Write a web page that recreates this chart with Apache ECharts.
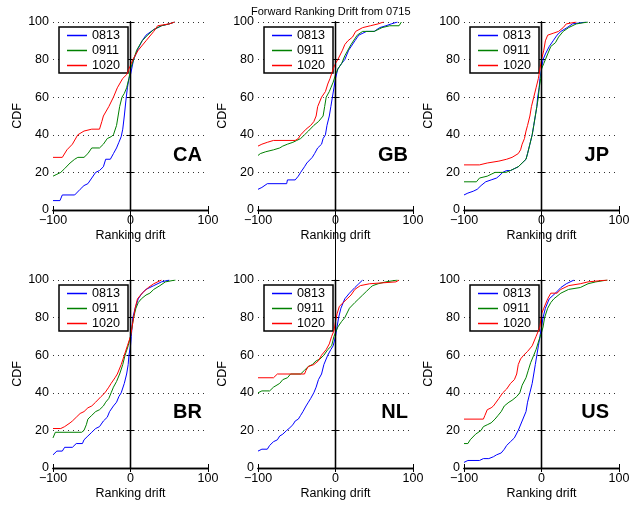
<!DOCTYPE html>
<html>
<head>
<meta charset="utf-8">
<script src="https://cdn.jsdelivr.net/npm/echarts@6/dist/echarts.min.js"></script>
<style>
  html, body { margin: 0; padding: 0; background: #fff; }
  #chart { width: 637px; height: 505px; }
</style>
</head>
<body>
<div id="chart"></div>
<script>
// Series names and country panels
const seriesNames = ['0813', '0911', '1020'];
const seriesColors = ['#0000ff', '#008000', '#ff0000'];
const countries = ['CA', 'GB', 'JP', 'BR', 'NL', 'US'];
const xTicks = [-100, 0, 100];
const yTicks = [0, 20, 40, 60, 80, 100];

// CDF points [drift, cdf]
const caBlue = [[-100,5],[-91,5],[-88,8],[-72,8],[-65,11],[-60,13],[-55,14],[-50,17],[-45,20],[-40,21],[-35,23],[-32,27],[-26,27],[-22,30],[-18,33],[-15,36],[-12,39],[-10,43],[-8,50],[-6,58],[-4,65],[-2,70],[0,72],[4,80],[10,86],[15,90],[20,93],[30,96],[40,98],[50,99],[57,100]];
const caGreen = [[-100,18],[-95,19],[-90,20],[-85,22],[-78,25],[-72,27],[-68,28],[-60,28],[-55,30],[-50,33],[-40,33],[-35,35],[-30,38],[-25,39],[-22,40],[-18,45],[-16,50],[-14,55],[-11,60],[-8,62],[-5,65],[-2,70],[0,75],[4,80],[8,85],[15,90],[22,93],[30,96],[40,98],[50,99],[57,100]];
const caRed = [[-100,28],[-88,28],[-82,32],[-75,35],[-68,40],[-60,42],[-50,43],[-40,43],[-37,47],[-35,50],[-28,55],[-22,60],[-17,65],[-10,70],[-5,72],[3,80],[10,85],[20,90],[30,95],[35,98],[50,99],[57,100]];

const gbBlue = [[-100,11],[-95,12],[-88,14],[-63,14],[-62,16],[-52,16],[-48,18],[-45,20],[-40,23],[-37,25],[-30,28],[-27,30],[-23,33],[-18,35],[-16,38],[-13,40],[-11,45],[-8,50],[-6,55],[-4,60],[-2,65],[0,70],[3,75],[8,78],[12,80],[17,85],[25,90],[30,93],[40,95],[50,95],[57,97],[65,98],[72,99],[80,100]];
const gbGreen = [[-100,29],[-97,30],[-90,31],[-80,32],[-72,33],[-68,34],[-62,35],[-55,36],[-50,37],[-45,38],[-40,40],[-35,42],[-28,45],[-22,47],[-20,48],[-16,50],[-14,55],[-12,60],[-8,63],[-6,65],[-3,68],[0,72],[3,75],[8,78],[12,82],[20,88],[28,93],[35,95],[50,95],[60,97],[70,98],[82,98],[85,100]];
const gbRed = [[-100,34],[-95,35],[-88,36],[-80,37],[-52,37],[-48,38],[-45,40],[-38,43],[-32,45],[-28,47],[-25,50],[-23,55],[-18,60],[-13,63],[-10,67],[-7,70],[-3,75],[0,78],[3,80],[9,85],[12,88],[16,90],[22,92],[26,95],[35,97],[45,98],[55,99],[62,100]];

const jpBlue = [[-100,8],[-95,9],[-88,10],[-83,11],[-78,13],[-72,15],[-65,16],[-58,17],[-55,18],[-50,20],[-45,21],[-40,21],[-35,22],[-30,23],[-25,25],[-20,27],[-18,30],[-15,35],[-12,40],[-10,45],[-8,50],[-6,55],[-5,60],[-3,65],[-2,70],[0,75],[2,80],[5,83],[10,87],[15,90],[20,93],[25,95],[33,97],[40,99],[58,100]];
const jpGreen = [[-100,15],[-84,15],[-80,17],[-70,18],[-65,19],[-60,20],[-46,20],[-40,21],[-35,22],[-30,23],[-25,25],[-20,27],[-18,30],[-15,35],[-12,40],[-10,45],[-8,50],[-6,55],[-4,60],[-3,65],[-1,70],[0,75],[3,78],[5,80],[8,83],[12,87],[18,89],[22,92],[28,95],[35,97],[45,99],[60,100]];
const jpRed = [[-100,24],[-80,24],[-70,25],[-55,26],[-45,27],[-38,28],[-30,30],[-27,32],[-25,35],[-22,38],[-20,42],[-18,45],[-15,50],[-13,55],[-10,60],[-7,65],[-4,70],[-2,75],[0,80],[3,85],[5,90],[8,93],[15,94],[22,95],[28,97],[32,99],[45,100]];

const brBlue = [[-100,7],[-95,9],[-88,9],[-85,11],[-75,11],[-70,13],[-62,13],[-60,15],[-55,17],[-50,19],[-45,21],[-40,22],[-35,25],[-30,27],[-27,30],[-22,33],[-18,35],[-15,38],[-12,40],[-8,45],[-5,50],[-3,55],[-2,60],[0,65],[1,70],[2,75],[3,80],[6,85],[10,90],[15,93],[20,95],[30,97],[40,99],[50,100]];
const brGreen = [[-100,16],[-97,19],[-63,19],[-60,20],[-57,23],[-55,26],[-50,28],[-45,30],[-40,31],[-35,33],[-32,35],[-28,37],[-25,40],[-22,43],[-18,46],[-14,50],[-10,55],[-7,60],[-3,65],[0,70],[2,75],[4,80],[7,85],[10,88],[14,90],[20,92],[25,93],[30,95],[38,97],[45,99],[58,100]];
const brRed = [[-100,21],[-90,21],[-85,22],[-78,24],[-75,25],[-70,27],[-65,29],[-60,30],[-55,32],[-50,33],[-45,35],[-38,38],[-33,40],[-28,43],[-25,45],[-20,48],[-17,50],[-12,55],[-8,60],[-4,65],[0,70],[2,75],[4,80],[6,85],[9,90],[15,93],[23,96],[30,98],[40,100]];

const nlBlue = [[-100,9],[-95,10],[-88,10],[-85,12],[-80,14],[-75,15],[-72,17],[-68,18],[-63,20],[-60,21],[-55,23],[-52,25],[-48,26],[-45,28],[-42,30],[-38,33],[-35,35],[-32,37],[-28,40],[-25,43],[-22,47],[-18,50],[-15,55],[-10,60],[-6,63],[-3,65],[0,70],[2,75],[4,80],[7,85],[12,90],[18,93],[25,96],[30,98],[35,100]];
const nlGreen = [[-100,40],[-95,41],[-85,41],[-80,43],[-72,45],[-68,47],[-62,48],[-58,50],[-45,50],[-40,52],[-35,54],[-30,55],[-25,57],[-20,58],[-15,60],[-10,63],[-5,65],[-2,70],[0,72],[3,75],[8,78],[12,80],[18,85],[25,88],[30,90],[35,92],[40,94],[45,96],[48,97],[55,98],[65,99],[80,100]];
const nlRed = [[-100,48],[-80,48],[-75,50],[-40,50],[-38,52],[-35,54],[-28,55],[-22,57],[-18,60],[-12,63],[-8,66],[-5,70],[-2,73],[0,78],[2,82],[5,86],[10,88],[15,90],[20,92],[25,95],[32,97],[44,98],[46,99],[78,99],[82,100]];

const usBlue = [[-100,3],[-95,4],[-80,4],[-75,5],[-68,5],[-62,6],[-58,7],[-52,8],[-48,10],[-45,12],[-40,14],[-35,16],[-30,20],[-25,25],[-20,30],[-18,35],[-15,40],[-12,45],[-10,50],[-8,55],[-6,60],[-4,65],[-2,70],[0,75],[2,80],[5,85],[10,90],[18,93],[25,96],[32,98],[42,100]];
const usGreen = [[-100,13],[-95,13],[-92,15],[-85,18],[-78,20],[-75,22],[-70,23],[-65,24],[-60,26],[-56,28],[-52,30],[-48,33],[-42,35],[-38,36],[-32,38],[-28,40],[-25,44],[-20,48],[-17,52],[-14,56],[-10,60],[-7,63],[-4,67],[0,72],[2,75],[4,80],[8,85],[12,88],[16,90],[25,93],[35,95],[50,96],[60,98],[70,99],[85,100]];
const usRed = [[-100,26],[-75,26],[-73,28],[-70,31],[-65,32],[-62,33],[-55,37],[-50,40],[-45,42],[-40,45],[-35,47],[-32,50],[-30,55],[-27,58],[-23,60],[-18,62],[-12,65],[-7,70],[-2,75],[0,82],[3,85],[8,90],[12,93],[20,93],[25,95],[35,97],[50,98],[60,99],[85,100]];

const panelData = [
    [caBlue, caGreen, caRed],
    [gbBlue, gbGreen, gbRed],
    [jpBlue, jpGreen, jpRed],
    [brBlue, brGreen, brRed],
    [nlBlue, nlGreen, nlRed],
    [usBlue, usGreen, usRed]
];

// Layout
const colLeft = [53, 258, 464];
const rowTop = [22, 280];
const plotW = 155;
const plotH = 188;
const labelRight = [202, 408, 609];
const labelY = [155, 412];
const font = 'Liberation Sans, Arial, sans-serif';

const grids = [], xAxes = [], yAxes = [], series = [], legends = [], graphics = [];

countries.forEach((name, i) => {
    const col = i % 3, row = Math.floor(i / 3);
    grids.push({ left: colLeft[col], top: rowTop[row], width: plotW, height: plotH });

    const frame = { show: true, lineStyle: { color: '#000', width: 1.3 } };
    const tick = { show: true, inside: true, length: 4, lineStyle: { color: '#000' } };

    xAxes.push({
        gridIndex: i, type: 'value', min: -100, max: 100, interval: 100, position: 'bottom',
        axisLine: frame, axisTick: tick, splitLine: { show: false },
        axisLabel: { color: '#000', fontSize: 12.5, fontFamily: font, margin: 4,
            formatter: v => String(v).replace('-', '\u2212') },
        name: 'Ranking drift', nameLocation: 'middle', nameGap: 19,
        nameTextStyle: { color: '#000', fontSize: 12.5, fontFamily: font }
    });
    xAxes.push({
        gridIndex: i, type: 'value', min: -100, max: 100, interval: 100, position: 'top',
        axisLine: frame, axisTick: tick, axisLabel: { show: false }, splitLine: { show: false }
    });
    yAxes.push({
        gridIndex: i, type: 'value', min: 0, max: 100, interval: 20, position: 'left',
        axisLine: frame, axisTick: tick,
        axisLabel: { color: '#000', fontSize: 12.5, fontFamily: font, margin: 4 },
        splitLine: { show: true, lineStyle: { color: '#333', width: 1, type: [1, 4] } },
        name: 'CDF', nameLocation: 'middle', nameGap: 29,
        nameTextStyle: { color: '#000', fontSize: 12.5, fontFamily: font }
    });
    yAxes.push({
        gridIndex: i, type: 'value', min: 0, max: 100, interval: 20, position: 'right',
        axisLine: frame, axisTick: tick, axisLabel: { show: false }, splitLine: { show: false }
    });

    panelData[i].forEach((pts, k) => {
        series.push({
            name: seriesNames[k], type: 'line', xAxisIndex: 2 * i, yAxisIndex: 2 * i,
            data: pts, showSymbol: false, symbol: 'none', animation: false,
            lineStyle: { color: seriesColors[k], width: 1 }, itemStyle: { color: seriesColors[k] },
            z: 3 + k
        });
    });

    // vertical line at zero drift, running past the axes like the original
    series.push({
        type: 'line', xAxisIndex: 2 * i, yAxisIndex: 2 * i, clip: false, silent: true,
        data: row === 0 ? [[0, -22], [0, 100]] : [[0, 0], [0, 116]],
        showSymbol: false, symbol: 'none', animation: false,
        lineStyle: { color: '#000', width: 1 }, z: 10
    });

    legends.push({
        data: seriesNames, orient: 'vertical',
        left: colLeft[col] + 6, top: rowTop[row] + 5,
        padding: [2, 8, 1, 8], itemGap: 2, itemWidth: 20, itemHeight: 1.5, icon: 'rect',
        borderColor: '#000', borderWidth: 1.5, backgroundColor: '#fff', borderRadius: 0,
        textStyle: { color: '#000', fontSize: 12.6, fontFamily: font, lineHeight: 13 },
        selectedMode: false
    });

    graphics.push({
        type: 'text', x: labelRight[col], y: labelY[row], z: 20,
        style: { text: name, fill: '#000', font: 'bold 20px ' + font, align: 'right', verticalAlign: 'middle' }
    });
});

const chart = echarts.init(document.getElementById('chart'));
chart.setOption({
    animation: false,
    backgroundColor: '#fff',
    title: { text: 'Forward Ranking Drift from 0715', left: 246, top: 1,
        textStyle: { color: '#000', fontSize: 11, fontWeight: 'normal', fontFamily: font } },
    grid: grids,
    xAxis: xAxes,
    yAxis: yAxes,
    legend: legends,
    series: series,
    graphic: graphics
});
</script>
</body>
</html>
